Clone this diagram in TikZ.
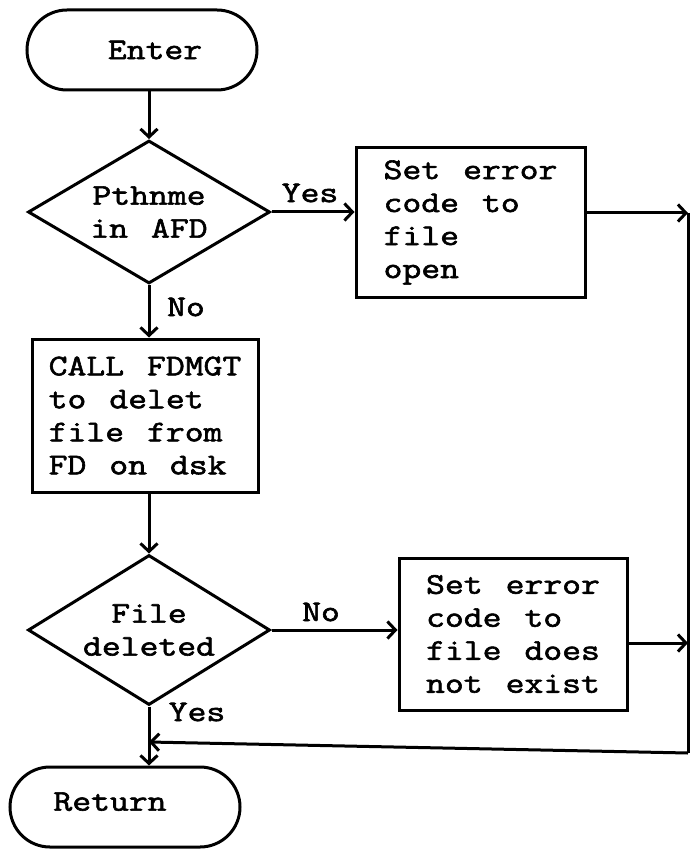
\documentclass[tikz,border=0pt]{standalone}
\usepackage{fontspec}
\usetikzlibrary{shapes.geometric,arrows.meta}
\newfontfamily\tw[FakeStretch=1.22,FakeBold=2,WordSpace=1.22]{Latin Modern Mono}
\begin{document}
\begin{tikzpicture}[x=1pt,y=-1pt,
  every node/.style={font=\tw\fontsize{30}{33}\selectfont},
  line/.style={line width=3pt},
  arr/.style={line, -{Straight Barb[length=8pt,width=17pt]}},
  terminal/.style={line, draw, rectangle, rounded corners=40pt, minimum width=230pt, minimum height=80pt, inner sep=0pt},
  decision/.style={line, draw, diamond, shape aspect=1.65, inner sep=-8pt, align=center},
  process/.style={line, draw, rectangle, inner sep=0pt, align=left},
  tag/.style={inner sep=0pt}]
\useasboundingbox (0,0) rectangle (693,850);

% blocks
\node[terminal] (enter) at (142,50) {\hspace*{26pt}Enter};
\node[decision, minimum width=242pt, minimum height=143pt] (d1) at (149,212) {Pthnme\\in AFD};
\node[process, minimum width=229pt, minimum height=149pt] (box1) at (470.5,222.5) {Set error\\code to\\file\\open};
\node[process, minimum width=226pt, minimum height=153pt] (box2) at (145,415.5) {CALL FDMGT\\to delet\\file from\\FD on dsk};
\node[decision, minimum width=242pt, minimum height=150pt] (d2) at (149,630) {File\\deleted};
\node[process, minimum width=228pt, minimum height=152pt] (box3) at (513,634) {Set error\\code to\\file does\\not exist};
\node[terminal] (ret) at (125,807) {\raisebox{11pt}{Return}\hspace*{30pt}};

% branch labels
\node[tag] (yes1) at (310,193) {Yes};
\node[tag] (no1) at (186,307) {No};
\node[tag] (no2) at (321,612) {No};
\node[tag] (yes2) at (197,712) {Yes};

% collector line on the right
\coordinate (r1) at (688,213);
\coordinate (r2) at (688,643);
\coordinate (r3) at (688,753);
\coordinate (m) at (149,742);

% connectors
\draw[arr] (d1.north |- enter.south) -- (d1.north);
\draw[arr] (d1.east) -- (d1.east -| box1.west);
\draw[arr] (d1.south) -- (d1.south |- box2.north);
\draw[arr] (box2.south -| d2.north) -- (d2.north);
\draw[arr] (d2.east) -- (d2.east -| box3.west);
\draw[arr] (box1.east |- r1) -- (r1);
\draw[arr] (box3.east |- r2) -- (r2);
\draw[line] (r1) -- (r3);
\draw[arr] (r3) -- (m);
\draw[arr] (d2.south) -- (d2.south |- ret.north);
\end{tikzpicture}
\end{document}
